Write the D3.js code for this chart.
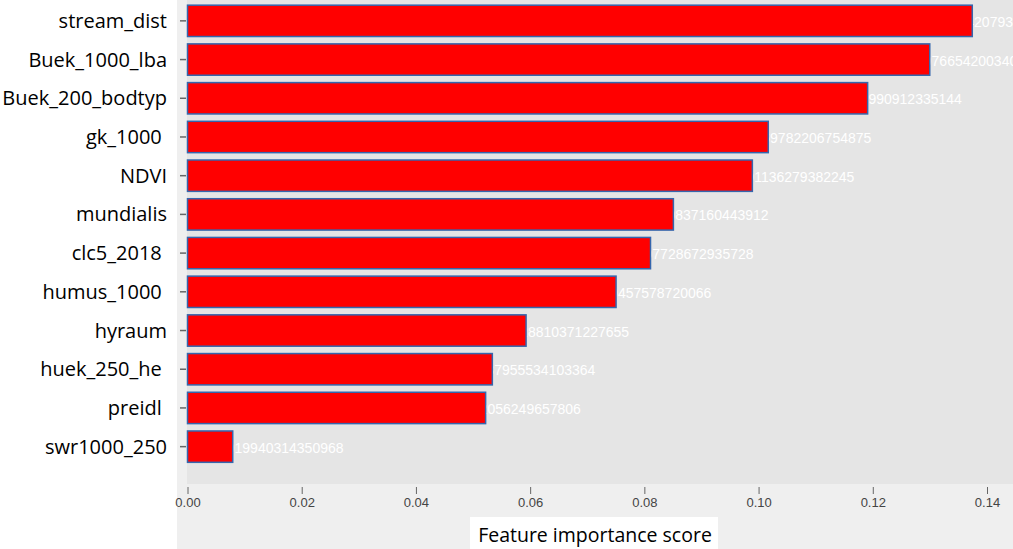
<!DOCTYPE html>
<html>
<head>
<meta charset="utf-8">
<script src="https://cdn.jsdelivr.net/npm/d3@7"></script>
<style>
  body { margin: 0; background: #fff; }
  svg { display: block; }
  .ylab { font-family: "Open Sans", sans-serif; font-size: 20px; fill: #000; white-space: pre; }
  .xtick text { font-family: "Liberation Sans", Arial, sans-serif; font-size: 13px; fill: #444; }
  .val { font-family: "Liberation Sans", Arial, sans-serif; font-size: 14px; fill: #fff; }
</style>
</head>
<body>
<div class="chart"></div>
<script>
const w = 1013;
const h = 549;

// features, top to bottom
const features = ["stream_dist", "Buek_1000_lba", "Buek_200_bodtyp", "gk_1000 ", "NDVI",
  "mundialis", "clc5_2018 ", "humus_1000 ", "hyraum", "huek_250_he ", "preidl ", "swr1000_250"];
// importance scores
const scores = [0.137420793, 0.129976654200340, 0.1190990912335144, 0.10169782206754875,
  0.09891136279382245, 0.0850837160443912, 0.08107728672935728, 0.0750457578720066,
  0.05928810371227655, 0.05337955534103364, 0.0522056249657806, 0.007919940314350968];
// printed score labels (full precision as shown)
const scoreLabels = ["0.137420793", "0.129976654200340", "0.1190990912335144", "0.10169782206754875",
  "0.09891136279382245", "0.0850837160443912", "0.08107728672935728", "0.0750457578720066",
  "0.05928810371227655", "0.05337955534103364", "0.0522056249657806", "0.007919940314350968"];
const xTicks = [0, 0.02, 0.04, 0.06, 0.08, 0.1, 0.12, 0.14];
const xTitle = "Feature importance score";

const data = features.map((f, i) => ({ name: f, value: scores[i], label: scoreLabels[i] }));

const x = d3.scaleLinear().domain([0, 0.14]).range([187.5, 987]);
const y = d3.scaleBand().domain(features).range([1.5, 466])
  .paddingInner(0.19).paddingOuter(0.095);

const svg = d3.select(".chart").append("svg")
  .attr("width", w).attr("height", h);

// outer grey panel and plot area
svg.append("rect").attr("x", 177).attr("y", 0).attr("width", w - 177).attr("height", h)
  .attr("fill", "#efefef");
svg.append("rect").attr("x", 187).attr("y", 0).attr("width", w - 187).attr("height", 484)
  .attr("fill", "#e5e5e5");

// value labels sit partly under the bars
svg.append("g").selectAll("text")
  .data(data).enter().append("text")
    .attr("class", "val")
    .attr("x", d => x(d.value) - 41)
    .attr("y", d => y(d.name) + y.bandwidth() / 2 + 6)
    .text(d => d.label);

svg.append("g").selectAll("rect")
  .data(data).enter().append("rect")
    .attr("x", x(0))
    .attr("y", d => y(d.name))
    .attr("width", d => x(d.value) - x(0))
    .attr("height", y.bandwidth())
    .attr("fill", "#ff0000")
    .attr("stroke", "#3566ad")
    .attr("stroke-width", 1.5);

// y axis: small ticks + labels
const yg = svg.append("g");
yg.selectAll("line").data(features).enter().append("line")
  .attr("x1", 180).attr("x2", 186)
  .attr("y1", d => y(d) + y.bandwidth() / 2).attr("y2", d => y(d) + y.bandwidth() / 2)
  .attr("stroke", "#666").attr("stroke-width", 1.5);
yg.selectAll("text").data(features).enter().append("text")
  .attr("class", "ylab")
  .attr("x", 167)
  .attr("y", d => y(d) + y.bandwidth() / 2 + 7)
  .attr("text-anchor", "end")
  .text(d => d);

// x axis
const xAxis = d3.axisBottom(x).tickValues(xTicks).tickFormat(d3.format(".2f"))
  .tickSize(7).tickPadding(4);
const xg = svg.append("g").attr("class", "xtick")
  .attr("transform", "translate(0,487)")
  .call(xAxis);
xg.select(".domain").remove();
xg.selectAll(".tick line").attr("stroke", "#666");

// axis title in a white box
svg.append("rect").attr("x", 470).attr("y", 517).attr("width", 248).attr("height", 32)
  .attr("fill", "#fff");
svg.append("text")
  .attr("x", 595).attr("y", 542)
  .attr("text-anchor", "middle")
  .style("font-family", "Open Sans, sans-serif")
  .style("font-size", "19.5px")
  .text(xTitle);
</script>
</body>
</html>
